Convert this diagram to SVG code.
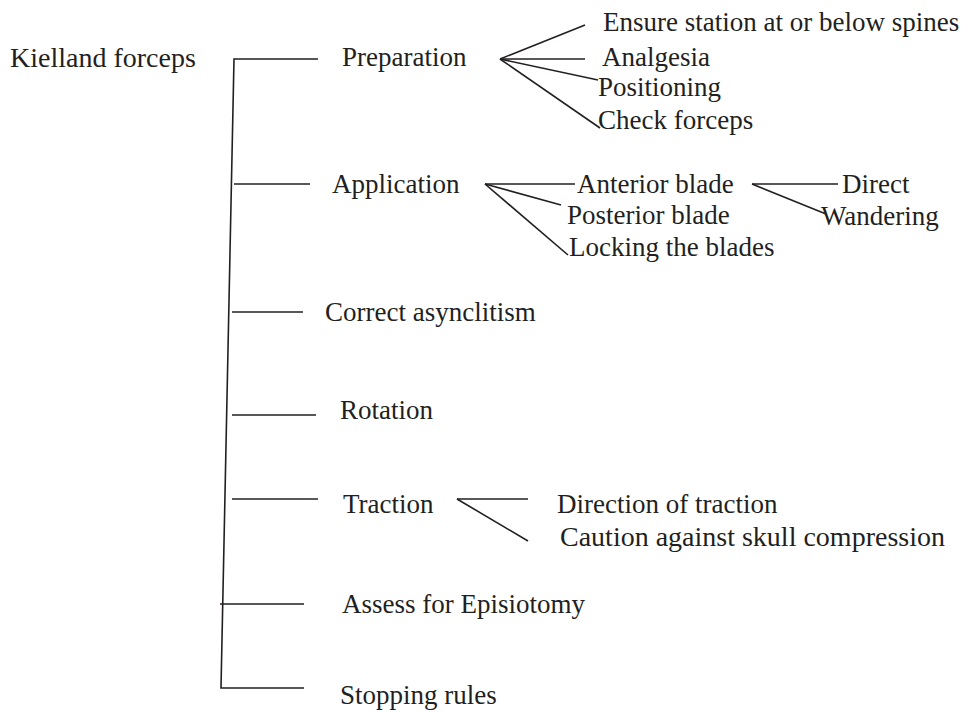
<svg xmlns="http://www.w3.org/2000/svg" width="973" height="712" viewBox="0 0 973 712">
<style>
text{font-family:"Liberation Serif","Times New Roman",serif;font-size:27px;fill:#231f20}
text.w{font-size:28px}
.c line,.c polyline{stroke:#231f20;stroke-width:1.6;fill:none}
</style>
<rect width="973" height="712" fill="#fff"/>
<g class="c" id="connectors">
<polyline points="318,59 234,59 221,688 304,688"/>
<line x1="234" y1="184" x2="310" y2="184"/>
<line x1="232" y1="312" x2="303" y2="312"/>
<line x1="232" y1="415" x2="316" y2="415"/>
<line x1="232" y1="499" x2="318" y2="499"/>
<line x1="220" y1="604" x2="304" y2="604"/>
<line x1="500" y1="59" x2="585" y2="25"/>
<line x1="500" y1="59" x2="585" y2="59"/>
<line x1="500" y1="59" x2="598" y2="80"/>
<line x1="500" y1="59" x2="600" y2="128"/>
<line x1="485" y1="184" x2="575" y2="184"/>
<line x1="485" y1="184" x2="561" y2="205"/>
<line x1="485" y1="184" x2="568" y2="255"/>
<line x1="752" y1="184" x2="838" y2="184"/>
<line x1="752" y1="184" x2="826" y2="214"/>
<line x1="457" y1="499" x2="528" y2="499"/>
<line x1="457" y1="499" x2="528" y2="541"/>
</g>
<g id="root"><text class="w" x="10" y="67">Kielland forceps</text></g>
<g id="preparation"><text x="342" y="66">Preparation</text></g>
<g id="ensure"><text x="603" y="31">Ensure station at or below spines</text></g>
<g id="analgesia"><text x="602" y="66">Analgesia</text></g>
<g id="positioning"><text x="598" y="96">Positioning</text></g>
<g id="check"><text x="598" y="129">Check forceps</text></g>
<g id="application"><text x="332" y="193">Application</text></g>
<g id="anterior"><text x="577" y="193">Anterior blade</text></g>
<g id="direct"><text x="842" y="193">Direct</text></g>
<g id="wandering"><text x="821" y="225">Wandering</text></g>
<g id="posterior"><text x="567" y="224">Posterior blade</text></g>
<g id="locking"><text x="569" y="256">Locking the blades</text></g>
<g id="asynclitism"><text x="325" y="321">Correct asynclitism</text></g>
<g id="rotation"><text x="340" y="419">Rotation</text></g>
<g id="traction"><text x="343" y="513">Traction</text></g>
<g id="direction"><text x="557" y="513">Direction of traction</text></g>
<g id="caution"><text class="w" x="560" y="546">Caution against skull compression</text></g>
<g id="episiotomy"><text x="342" y="613">Assess for Episiotomy</text></g>
<g id="stopping"><text x="340" y="704">Stopping rules</text></g>
</svg>
